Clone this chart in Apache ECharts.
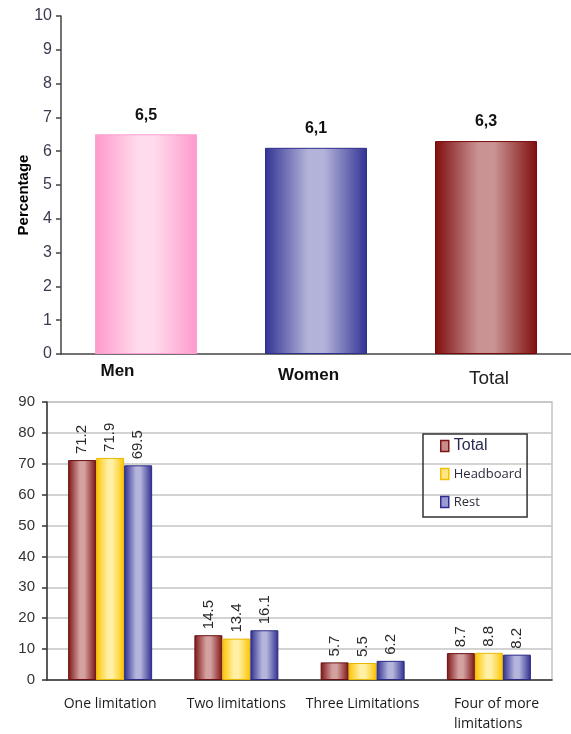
<!DOCTYPE html>
<html>
<head>
<meta charset="utf-8">
<script src="https://cdn.jsdelivr.net/npm/echarts@6/dist/echarts.min.js"></script>
<style>
  html, body { margin: 0; padding: 0; background: #fff; }
  #chart { width: 571px; height: 734px; }
</style>
</head>
<body>
<div id="chart"></div>
<script>
// Upper panel: percentage by sex
const sexCategories = ['Men', 'Women', 'Total'];
const sexValues = [6.5, 6.1, 6.3];
const sexTicks = [0, 1, 2, 3, 4, 5, 6, 7, 8, 9, 10];

// Lower panel: number of limitations by group
const limitCategories = ['One limitation', 'Two limitations', 'Three Limitations', 'Four of more\nlimitations'];
const totalValues = [71.2, 14.5, 5.7, 8.7];
const headboardValues = [71.9, 13.4, 5.5, 8.8];
const restValues = [69.5, 16.1, 6.2, 8.2];
const limitTicks = [0, 10, 20, 30, 40, 50, 60, 70, 80, 90];

// Cylinder-like horizontal shading
function shade(dark, light) {
  return new echarts.graphic.LinearGradient(0, 0, 1, 0, [
    { offset: 0, color: dark },
    { offset: 0.42, color: light },
    { offset: 0.58, color: light },
    { offset: 1, color: dark }
  ]);
}

const sexStyles = [
  { dark: '#ff99cc', light: '#ffdbed', border: '#ff9fcf' },
  { dark: '#323295', light: '#b3b3d9', border: '#2e2e8c' },
  { dark: '#7f0d0d', light: '#c99393', border: '#7a0a0a' }
];

const groupStyles = {
  Total: { dark: '#7e1414', light: '#d4a1a1', border: '#6b1010' },
  Headboard: { dark: '#ffc400', light: '#fff0a6', border: '#e8b800' },
  Rest: { dark: '#2e2e90', light: '#b4b4dc', border: '#2a2a80' }
};

const chart = echarts.init(document.getElementById('chart'), null, { renderer: 'canvas' });

function groupSeries(name, values) {
  const s = groupStyles[name];
  return {
    name: name,
    type: 'bar',
    xAxisIndex: 1,
    yAxisIndex: 1,
    data: values,
    barWidth: 28,
    barGap: '0%',
    itemStyle: { color: shade(s.dark, s.light), borderColor: s.border, borderWidth: 1 },
    label: {
      show: true,
      position: 'top',
      rotate: 90,
      align: 'left',
      verticalAlign: 'middle',
      distance: 6,
      fontFamily: 'Liberation Sans, Arial, sans-serif',
      fontSize: 15,
      color: '#2a2a2a'
    }
  };
}

chart.setOption({
  animation: false,
  backgroundColor: '#fff',
  grid: [
    { left: 61, top: 16, width: 513, height: 338 },
    { left: 47, top: 402, width: 505, height: 281, show: true, borderColor: '#c4c4c4', borderWidth: 1.5 }
  ],
  legend: {
    orient: 'vertical',
    left: 423,
    top: 434,
    padding: [4, 5, 7, 17],
    itemGap: 12,
    itemWidth: 8,
    itemHeight: 11,
    borderColor: '#333',
    borderWidth: 1.5,
    textStyle: { fontFamily: 'Open Sans, sans-serif', fontSize: 13, color: '#2b2b3b', lineHeight: 16 },
    data: [
      { name: 'Total', icon: 'rect', itemStyle: { color: '#c98a8a', borderColor: '#7e1414', borderWidth: 1.5 },
        textStyle: { fontFamily: 'Liberation Sans Narrow, Arial Narrow, sans-serif', fontSize: 16, color: '#2a2a50' } },
      { name: 'Headboard', icon: 'rect', itemStyle: { color: '#ffe680', borderColor: '#f0c000', borderWidth: 1.5 } },
      { name: 'Rest', icon: 'rect', itemStyle: { color: '#9a9ad0', borderColor: '#2e2e90', borderWidth: 1.5 } }
    ]
  },
  xAxis: [
    {
      type: 'category',
      gridIndex: 0,
      data: sexCategories,
      axisLine: { lineStyle: { color: '#444', width: 1.5 } },
      axisTick: { length: 5, lineStyle: { color: '#444', width: 1.5 } },
      axisLabel: {
        margin: 9,
        formatter: function (v) {
          if (v === 'Men') return '{men|Men}';
          if (v === 'Women') return '{women|Women}';
          return '{total|Total}';
        },
        rich: {
          men: { fontFamily: 'Liberation Sans, Arial, sans-serif', fontWeight: 'bold', fontSize: 17, color: '#111', padding: [0, 57, 0, 0] },
          women: { fontFamily: 'Liberation Sans, Arial, sans-serif', fontWeight: 'bold', fontSize: 17, color: '#111', padding: [4, 15, 0, 0] },
          total: { fontFamily: 'Liberation Sans Narrow, Arial Narrow, sans-serif', fontSize: 19, color: '#222', padding: [6, 0, 0, 6] }
        }
      }
    },
    {
      type: 'category',
      gridIndex: 1,
      data: limitCategories,
      axisLine: { lineStyle: { color: '#333', width: 1.5 } },
      axisTick: { length: 5, lineStyle: { color: '#333', width: 1.5 } },
      axisLabel: {
        margin: 14,
        interval: 0,
        fontFamily: 'Open Sans, sans-serif',
        fontSize: 14,
        lineHeight: 20,
        color: '#1a1a1a',
        formatter: function (v) {
          if (v.indexOf('\n') >= 0) {
            return v.split('\n').map(function (line) { return '{wrap|' + line + '}'; }).join('\n');
          }
          return v;
        },
        rich: {
          wrap: { fontFamily: 'Open Sans, sans-serif', fontSize: 14, lineHeight: 20, color: '#1a1a1a', width: 90, align: 'left', padding: [0, 0, 0, 20] }
        }
      }
    }
  ],
  yAxis: [
    {
      type: 'value',
      gridIndex: 0,
      min: sexTicks[0],
      max: sexTicks[sexTicks.length - 1],
      interval: 1,
      name: 'Percentage',
      nameLocation: 'middle',
      nameGap: 30,
      nameMoveOverlap: false,
      nameTextStyle: { fontFamily: 'Liberation Sans, Arial, sans-serif', fontWeight: 'bold', fontSize: 15, color: '#000', padding: [0, 20, 0, 0] },
      axisLine: { show: true, lineStyle: { color: '#444', width: 1.5 } },
      axisTick: { show: true, length: 5, lineStyle: { color: '#444', width: 1.5 } },
      splitLine: { show: false },
      axisLabel: { margin: 9, fontFamily: 'Liberation Sans, Arial, sans-serif', fontSize: 16, color: '#3a3a50' }
    },
    {
      type: 'value',
      gridIndex: 1,
      min: limitTicks[0],
      max: limitTicks[limitTicks.length - 1],
      interval: 10,
      axisLine: { show: true, lineStyle: { color: '#333', width: 1.5 } },
      axisTick: { show: true, length: 5, lineStyle: { color: '#333', width: 1.5 } },
      splitLine: { show: true, lineStyle: { color: '#c4c4c4', width: 1.5 } },
      axisLabel: { margin: 12, fontFamily: 'Liberation Sans, Arial, sans-serif', fontSize: 15, color: '#333' }
    }
  ],
  series: [
    {
      type: 'bar',
      xAxisIndex: 0,
      yAxisIndex: 0,
      barWidth: 102,
      data: sexValues.map(function (v, i) {
        const s = sexStyles[i];
        return { value: v, itemStyle: { color: shade(s.dark, s.light), borderColor: s.border, borderWidth: 1 } };
      }),
      label: {
        show: true,
        position: 'top',
        distance: 11,
        fontFamily: 'Liberation Sans, Arial, sans-serif',
        fontWeight: 'bold',
        fontSize: 16,
        color: '#111',
        formatter: function (p) { return String(p.value).replace('.', ','); }
      }
    },
    groupSeries('Total', totalValues),
    groupSeries('Headboard', headboardValues),
    groupSeries('Rest', restValues)
  ]
});
</script>
</body>
</html>
